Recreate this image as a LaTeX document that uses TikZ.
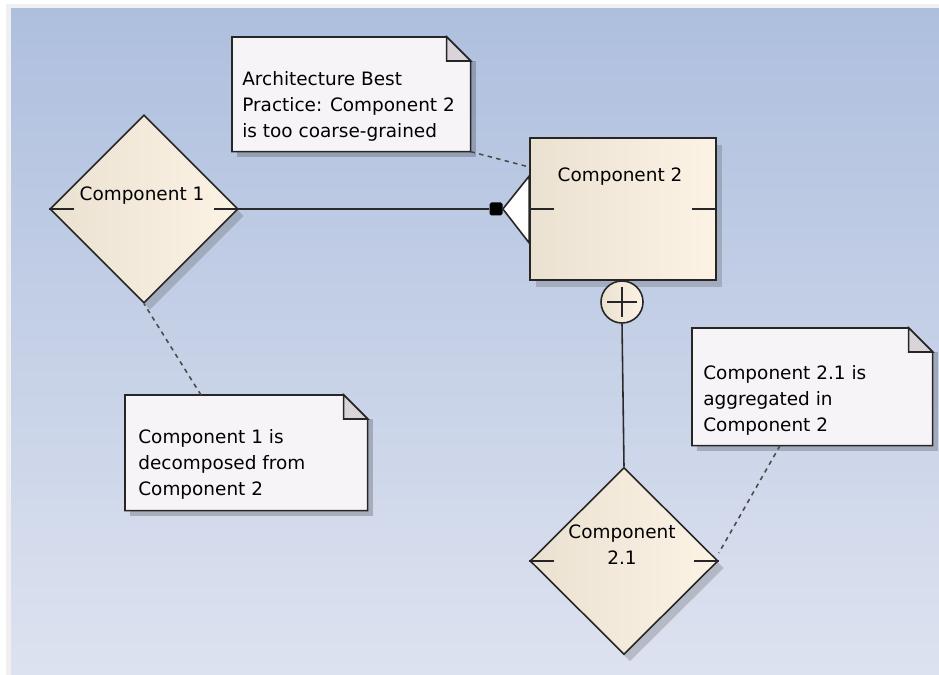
\documentclass[tikz,border=0pt]{standalone}
\usepackage{fontspec}
\setmainfont{DejaVu Sans}
\usepackage{tikz}
\usetikzlibrary{positioning,shapes.geometric,shadows}
\definecolor{bgTop}{HTML}{AEBFDE}
\definecolor{bgBottom}{HTML}{DEE3F0}
\definecolor{compLeft}{HTML}{EBE1D1}
\definecolor{compRight}{HTML}{FCF3E5}
\definecolor{noteFill}{HTML}{F7F4F7}
\definecolor{foldFill}{HTML}{D8D4DA}
\definecolor{lineGrey}{HTML}{2B2B2B}
\newcommand*{\portLen}{25}
\newcommand*{\foldSize}{0.48cm}
% note outline with folded corner, round a named node
\newcommand*{\noteShape}[1]{%
    \fill [black, opacity=0.2] ([xshift=0.1cm,yshift=-0.1cm]#1.south west) rectangle ([xshift=0.1cm,yshift=-\foldSize]#1.north east);
    \filldraw [fill=noteFill, draw=black!85, line width=0.9pt] (#1.south west) -- (#1.north west) -- ([xshift=-\foldSize]#1.north east) -- ([yshift=-\foldSize]#1.north east) -- (#1.south east) -- cycle;
    \filldraw [fill=foldFill, draw=black!85, line width=0.9pt] ([xshift=-\foldSize]#1.north east) -- ([xshift=-\foldSize,yshift=-\foldSize]#1.north east) -- ([yshift=-\foldSize]#1.north east) -- cycle;
}

\begin{document}
\begin{tikzpicture}[x=0.02cm, y=0.02cm,
    compfill/.style={draw=black!85, line width=0.9pt, left color=compLeft, right color=compRight},
    comp/.style={compfill, drop shadow={shadow xshift=0.12cm, shadow yshift=-0.14cm, opacity=0.25, fill=black!70}},
    compdiamond/.style={comp, diamond, inner sep=0pt, minimum width=3.76cm, minimum height=3.76cm},
    comptext/.style={font=\fontsize{10.5}{14.8}\selectfont, align=center, inner sep=0pt},
    notebody/.style={rectangle, inner sep=0pt, anchor=north west},
    notetext/.style={font=\fontsize{10.5}{14.8}\selectfont, align=left, inner sep=0pt},
    link/.style={draw=lineGrey, line width=0.9pt},
    notelink/.style={draw=lineGrey!85, line width=0.9pt, dash pattern=on 2.5pt off 2.5pt},
    tick/.style={draw=black!85, line width=0.9pt}]

    % frame and background
    \useasboundingbox (0,0) rectangle (939,-675);
    \fill [white] (0,0) rectangle (950,-690);
    \fill [black!6] (6,-4) rectangle (950,-690);
    \shade [top color=bgTop, bottom color=bgBottom] (11,-9) rectangle (950,-690);

    % components
    \node [compdiamond] (comp1) at (144,-209) {};
    \node [comp, rectangle, minimum width=3.72cm, minimum height=2.84cm] (comp2) at (623,-209) {};
    \node [compdiamond, minimum height=3.74cm] (comp21) at (624,-561) {};
    \node [comptext] (comp1-label) at (142,-196) {Component 1};
    \node [comptext] (comp2-label) at (620,-177) {Component 2};
    \node [comptext] (comp21-label) at (622,-545) {Component\\2.1};
    \foreach \c in {comp1,comp2,comp21} {
        \draw [tick] (\c.west) -- ++(\portLen,0);
        \draw [tick] (\c.east) -- ++(-\portLen,0);
    }

    % port on component 2
    \node [rectangle, fill=black, rounded corners=1pt, minimum size=0.26cm, inner sep=0pt] (port) at (496,-209) {};
    \filldraw [fill=white, draw=black!85, line width=0.9pt] (port.east) -- ([yshift=0.66cm]comp2.west) -- ([yshift=-0.68cm]comp2.west) -- cycle;

    % aggregation mark
    \node [compfill, circle, minimum size=0.84cm, inner sep=0pt] (agg) at (622,-302) {};
    \draw [tick] ([xshift=-0.3cm]agg.center) -- ([xshift=0.3cm]agg.center);
    \draw [tick] ([yshift=-0.3cm]agg.center) -- ([yshift=0.3cm]agg.center);

    % notes
    \node [notebody, minimum width=4.76cm, minimum height=2.28cm] (note1) at (232,-37) {};
    \node [notebody, minimum width=4.84cm, minimum height=2.30cm] (note2) at (125,-395) {};
    \node [notebody, minimum width=4.80cm, minimum height=2.34cm] (note3) at (692,-328) {};
    \foreach \n in {note1,note2,note3} {
        \noteShape{\n}
    }
    \node [notetext, below right=0.68cm and 0.2cm of note1.north west] (note1-text) {Architecture Best\\Practice: Component 2\\is too coarse-grained};
    \node [notetext, below right=0.68cm and 0.26cm of note2.north west] (note2-text) {Component 1 is\\decomposed from\\Component 2};
    \node [notetext, below right=0.74cm and 0.22cm of note3.north west] (note3-text) {Component 2.1 is\\aggregated in\\Component 2};

    % connectors
    \draw [link] (comp1.east) -- (port.west);
    \draw [link] (agg.south) -- (comp21.north);
    \draw [notelink] (note1.south east) -- ([yshift=0.84cm]comp2.west);
    \draw [notelink] ([xshift=1.52cm]note2.north west) -- (comp1.south);
    \draw [notelink] ([xshift=1.76cm]note3.south west) -- ([yshift=0.16cm]comp21.east);
\end{tikzpicture}
\end{document}
